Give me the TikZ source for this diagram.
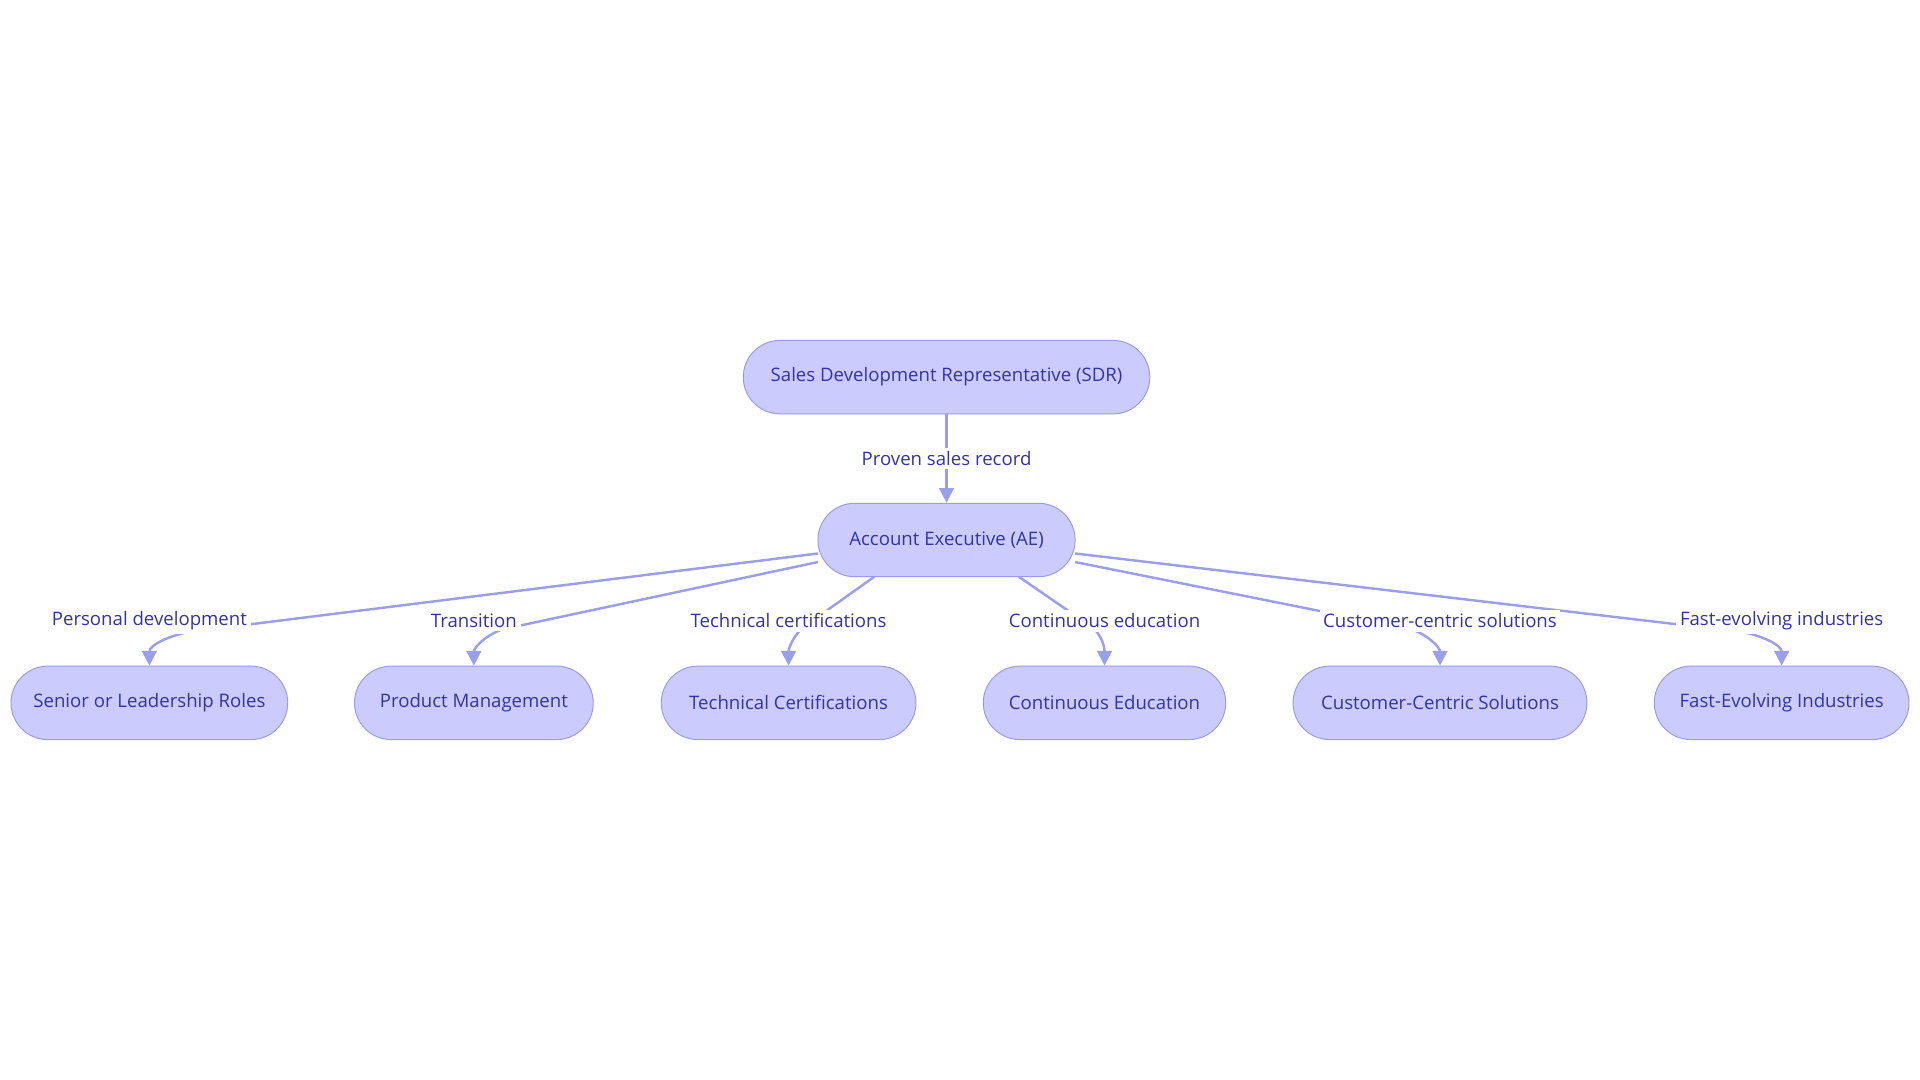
\documentclass[tikz,border=0pt]{standalone}
\usepackage{fontspec}
\setmainfont{Open Sans}
\usetikzlibrary{arrows.meta}
\definecolor{nfill}{HTML}{CBCCFD}
\definecolor{ndraw}{HTML}{9A9AE8}
\definecolor{ntext}{HTML}{3333A3}
\definecolor{edgec}{HTML}{9B9FEA}
\tikzset{
  box/.style={draw=ndraw, fill=nfill, text=ntext, rounded corners=15pt, minimum height=30pt, inner sep=0pt, font=\fontsize{7.6}{9}\selectfont},
  edge/.style={draw=edgec, line width=1pt, -{Triangle[length=6pt,width=6pt]}},
  lbl/.style={fill=white, text=ntext, inner sep=1.5pt, font=\fontsize{7.6}{9}\selectfont}
}
\begin{document}
\begin{tikzpicture}[x=0.5pt,y=-0.5pt]
\useasboundingbox (0,0) rectangle (1568,882);
\node[box, minimum width=166pt] (sdr) at (773,308) {Sales Development Representative (SDR)};
\node[box, minimum width=105pt] (ae) at (773,441) {Account Executive (AE)};
\node[box, minimum width=113pt] (c1) at (122,574) {Senior or Leadership Roles};
\node[box, minimum width=97.5pt] (c2) at (387,574) {Product Management};
\node[box, minimum width=104pt] (c3) at (644,574) {Technical Certifications};
\node[box, minimum width=99pt] (c4) at (902,574) {Continuous Education};
\node[box, minimum width=120pt] (c5) at (1176,574) {Customer-Centric Solutions};
\node[box, minimum width=104pt] (c6) at (1455,574) {Fast-Evolving Industries};
\coordinate (s1) at (668,452);
\coordinate (s2) at (668,459);
\coordinate (s3) at (714,471);
\coordinate (s4) at (832,471);
\coordinate (s5) at (878,459);
\coordinate (s6) at (878,452);
\draw[edge] (sdr) -- (ae) node[lbl, midway] {Proven sales record};
\draw[edge] (s1) -- (155,516) to[out=190,in=90] (c1.north);
\draw[edge] (s2) -- (410,514) to[out=200,in=90] (c2.north);
\draw[edge] (s3) -- (655,513) to[out=225,in=90] (c3.north);
\draw[edge] (s4) -- (893,513) to[out=-45,in=90] (c4.north);
\draw[edge] (s5) -- (1153,514) to[out=-20,in=90] (c5.north);
\draw[edge] (s6) -- (1422,516) to[out=-10,in=90] (c6.north);
\node[lbl] (l1) at (122,507) {Personal development};
\node[lbl] (l2) at (387,507) {Transition};
\node[lbl] (l3) at (644,507) {Technical certifications};
\node[lbl] (l4) at (902,507) {Continuous education};
\node[lbl] (l5) at (1176,507) {Customer-centric solutions};
\node[lbl] (l6) at (1455,507) {Fast-evolving industries};
\end{tikzpicture}
\end{document}
